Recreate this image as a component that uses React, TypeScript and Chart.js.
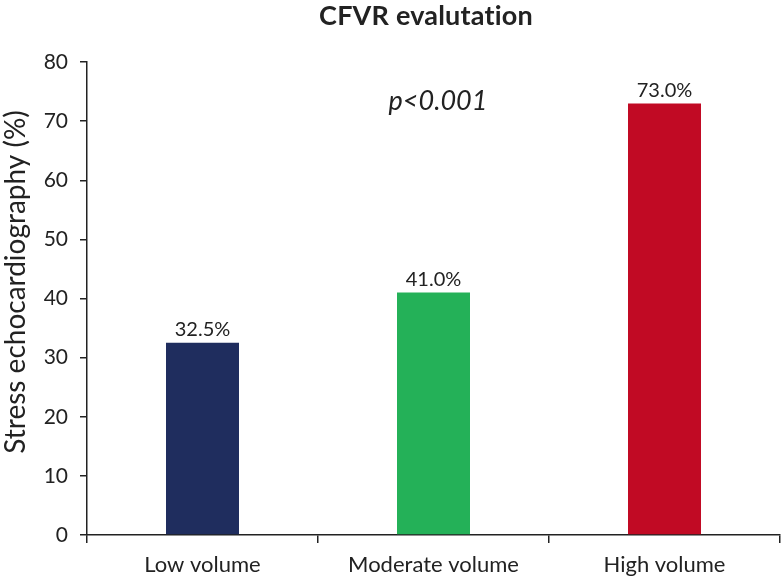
import React, { useEffect, useRef } from "react";
import { Chart, registerables } from "chart.js";

Chart.register(...registerables);

const categories = ["Low volume", "Moderate volume", "High volume"];
const values = [32.5, 41.0, 73.0];
const valueLabels = ["32.5%", "41.0%", "73.0%"];
const barColors = ["#1f2d5e", "#24b158", "#c10a24"];
const chartTitle = "CFVR evalutation";
const yTitle = "Stress echocardiography (%)";
const pValueText = "p<0.001";
const FONT = "Lato, 'Noto Sans', sans-serif";

const overlayPlugin = {
  id: "overlay",
  afterDatasetsDraw(chart: any) {
    const ctx = chart.ctx;
    const meta = chart.getDatasetMeta(0);
    ctx.save();
    ctx.fillStyle = "#222";
    ctx.textAlign = "center";
    ctx.textBaseline = "bottom";
    ctx.font = `20px ${FONT}`;
    meta.data.forEach((bar: any, i: number) => {
      ctx.fillText(valueLabels[i], bar.x, bar.y - 3);
    });
    // title
    ctx.font = `bold 27px ${FONT}`;
    ctx.textBaseline = "middle";
    (ctx as any).letterSpacing = "0.2px";
    ctx.fillText(chartTitle, 426, 16);
    (ctx as any).letterSpacing = "0px";
    // p value
    ctx.font = `italic 27px ${FONT}`;
    const yScale = chart.scales.y;
    ctx.fillText(pValueText, 438, yScale.getPixelForValue(73.3));
    // y title
    ctx.font = `28px ${FONT}`;
    ctx.translate(16, 282);
    ctx.rotate(-Math.PI / 2);
    ctx.fillText(yTitle, 0, 0);
    ctx.restore();
  },
};

export default function App() {
  const ref = useRef<HTMLCanvasElement | null>(null);
  useEffect(() => {
    if (!ref.current) return;
    const chart = new Chart(ref.current, {
      type: "bar",
      data: {
        labels: categories,
        datasets: [
          {
            data: values,
            backgroundColor: barColors,
            borderWidth: 0,
            categoryPercentage: 1,
            barPercentage: 0.316,
          },
        ],
      },
      options: {
        animation: false,
        responsive: false,
        maintainAspectRatio: false,
        layout: { padding: { left: 0, right: 1, top: 62, bottom: 0 } },
        plugins: {
          legend: { display: false },
          title: { display: false },
          tooltip: { enabled: false },
        },
        scales: {
          x: {
            grid: {
              offset: true,
              drawOnChartArea: false,
              drawTicks: true,
              tickLength: 8,
              color: "#222",
              lineWidth: 1.5,
            },
            border: { display: true, color: "#222", width: 1.5 },
            ticks: {
              color: "#222",
              font: { family: FONT, size: 22 },
              padding: 9,
            },
            afterFit(scale: any) {
              scale.height = 48;
            },
          },
          y: {
            min: 0,
            max: 80,
            grid: {
              drawOnChartArea: false,
              drawTicks: true,
              tickLength: 7,
              color: "#222",
              lineWidth: 1.5,
            },
            border: { display: true, color: "#222", width: 1.5 },
            ticks: {
              stepSize: 10,
              color: "#222",
              font: { family: FONT, size: 21 },
              padding: 12,
            },
            afterFit(scale: any) {
              scale.width = 87;
            },
          },
        },
      },
      plugins: [overlayPlugin],
    });
    return () => chart.destroy();
  }, []);
  return (
    <div style={{ position: "fixed", left: 0, top: 0, width: 781, height: 583, background: "#fff" }}>
      <canvas ref={ref} width={781} height={583} style={{ width: 781, height: 583 }} />
    </div>
  );
}
